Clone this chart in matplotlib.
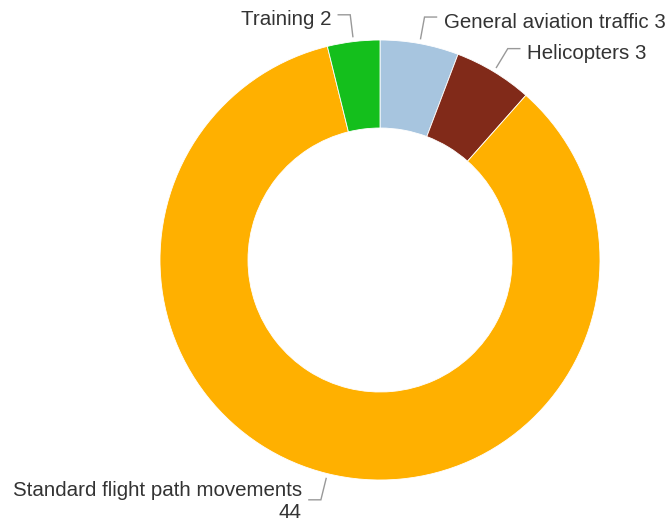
import numpy as np
import matplotlib
matplotlib.use("Agg")
import matplotlib.pyplot as plt

categories = ["General aviation traffic", "Helicopters", "Standard flight path movements", "Training"]
values = [3, 3, 44, 2]
label_texts = ["General aviation traffic 3", "Helicopters 3", "Standard flight path movements\n44", "Training 2"]
colors = ["#a7c5df", "#812a19", "#ffb000", "#14bf1c"]

W, H = 669, 522
fig = plt.figure(figsize=(W / 100, H / 100), dpi=100)
ax = fig.add_axes([0, 0, 1, 1])

cx, cy = 380, H - 260
R = 220
wedges, _ = ax.pie(values, colors=colors, startangle=90, counterclock=False,
                   radius=R, center=(cx, cy), frame=True,
                   wedgeprops=dict(width=R * 0.4, edgecolor="white", linewidth=0.6))
ax.set_xlim(0, W)
ax.set_ylim(0, H)
ax.set_aspect("equal")
ax.axis("off")

for w, txt in zip(wedges, label_texts):
    ang = np.deg2rad((w.theta1 + w.theta2) / 2)
    dx, dy = np.cos(ang), np.sin(ang)
    p0 = (cx + (R + 5) * dx, cy + (R + 5) * dy)
    p1 = (cx + (R + 27) * dx, cy + (R + 27) * dy)
    side = 1 if dx >= 0 else -1
    p2 = (p1[0] + side * 12, p1[1])
    ax.plot([p0[0], p1[0], p2[0]], [p0[1], p1[1], p2[1]], color="#999999", lw=1,
            solid_joinstyle="miter")
    multi = "\n" in txt
    ax.text(p2[0] + side * 7, p1[1] + (-2 if multi else -5), txt,
            ha="left" if side > 0 else "right", va="center",
            multialignment="right" if side < 0 else "left",
            fontsize=14.8, family="Liberation Sans", color="#333333", linespacing=1.2)

fig.savefig("out.png", dpi=100)
